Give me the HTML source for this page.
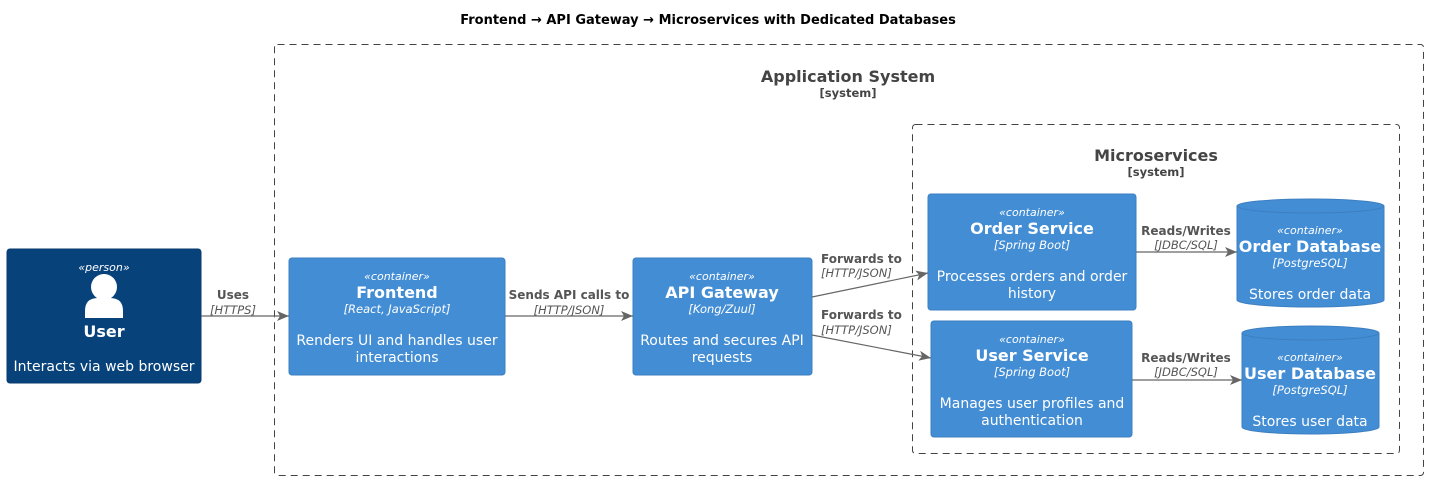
<!DOCTYPE html>
<html><head><meta charset="utf-8"><style>
html,body{margin:0;padding:0;background:#fff;}
svg{display:block;font-family:"DejaVu Sans","Liberation Sans",sans-serif;}
.st{font-size:11px;font-style:italic;fill:#fff;}
.nm{font-size:16px;font-weight:bold;fill:#fff;}
.tc{font-size:11.5px;font-style:italic;fill:#fff;}
.ds{font-size:14px;fill:#fff;}
.lb{font-size:12px;font-weight:bold;fill:#555;}
.lt{font-size:11.5px;font-style:italic;fill:#555;}
</style></head><body>
<svg width="1429" height="482" viewBox="0 0 1429 482">
<defs><marker id="a" markerWidth="12" markerHeight="10" refX="12" refY="5" orient="auto" markerUnits="userSpaceOnUse"><path d="M0,0 L12,5 L0,10 L3,5 z" fill="#666"/></marker></defs>
<text x="708" y="24" text-anchor="middle" font-size="13" font-weight="bold" fill="#000">Frontend → API Gateway → Microservices with Dedicated Databases</text>
<rect x="274.5" y="44.5" width="1149" height="431" rx="3" fill="none" stroke="#444" stroke-dasharray="7,5"/>
<text x="848" y="82" text-anchor="middle" font-size="16" font-weight="bold" fill="#444">Application System</text>
<text x="848" y="97" text-anchor="middle" font-size="11.5" font-weight="bold" fill="#444">[system]</text>
<rect x="912.5" y="124.5" width="487" height="329" rx="3" fill="none" stroke="#444" stroke-dasharray="7,5"/>
<text x="1156" y="161" text-anchor="middle" font-size="16" font-weight="bold" fill="#444">Microservices</text>
<text x="1156" y="176" text-anchor="middle" font-size="11.5" font-weight="bold" fill="#444">[system]</text>

<rect x="7" y="249" width="194" height="134" rx="3" fill="#08427B" stroke="#073B6F"/>
<text x="104" y="271" text-anchor="middle" class="st">«person»</text>
<circle cx="104" cy="287" r="13" fill="#fff"/>
<path d="M85,318 v-7 q0,-13 13,-13 h12 q13,0 13,13 v7 z" fill="#fff"/>
<text x="104" y="337" text-anchor="middle" class="nm">User</text>
<text x="104" y="371" text-anchor="middle" class="ds">Interacts via web browser</text>

<rect x="289" y="258" width="216" height="117" rx="3" fill="#438DD5" stroke="#3C7FC0"/>
<text x="397" y="280" text-anchor="middle" class="st">«container»</text>
<text x="397" y="298" text-anchor="middle" class="nm">Frontend</text>
<text x="397" y="313" text-anchor="middle" class="tc">[React, JavaScript]</text>
<text x="397" y="345" text-anchor="middle" class="ds">Renders UI and handles user</text>
<text x="397" y="362" text-anchor="middle" class="ds">interactions</text>

<rect x="633" y="258" width="179" height="117" rx="3" fill="#438DD5" stroke="#3C7FC0"/>
<text x="722" y="280" text-anchor="middle" class="st">«container»</text>
<text x="722" y="298" text-anchor="middle" class="nm">API Gateway</text>
<text x="722" y="313" text-anchor="middle" class="tc">[Kong/Zuul]</text>
<text x="722" y="345" text-anchor="middle" class="ds">Routes and secures API</text>
<text x="722" y="362" text-anchor="middle" class="ds">requests</text>

<rect x="928" y="194" width="208" height="116" rx="3" fill="#438DD5" stroke="#3C7FC0"/>
<text x="1032" y="216" text-anchor="middle" class="st">«container»</text>
<text x="1032" y="234" text-anchor="middle" class="nm">Order Service</text>
<text x="1032" y="249" text-anchor="middle" class="tc">[Spring Boot]</text>
<text x="1032" y="281" text-anchor="middle" class="ds">Processes orders and order</text>
<text x="1032" y="298" text-anchor="middle" class="ds">history</text>

<rect x="931" y="321" width="201" height="116" rx="3" fill="#438DD5" stroke="#3C7FC0"/>
<text x="1032" y="343" text-anchor="middle" class="st">«container»</text>
<text x="1032" y="361" text-anchor="middle" class="nm">User Service</text>
<text x="1032" y="376" text-anchor="middle" class="tc">[Spring Boot]</text>
<text x="1032" y="408" text-anchor="middle" class="ds">Manages user profiles and</text>
<text x="1032" y="425" text-anchor="middle" class="ds">authentication</text>

<path d="M1237,206 a73.5,7 0 0 1 147,0 v94 a73.5,7 0 0 1 -147,0 z" fill="#438DD5" stroke="#3C7FC0"/>
<path d="M1237,206 a73.5,7 0 0 0 147,0" fill="none" stroke="#3C7FC0"/>
<text x="1310" y="234" text-anchor="middle" class="st">«container»</text>
<text x="1310" y="252" text-anchor="middle" class="nm">Order Database</text>
<text x="1310" y="267" text-anchor="middle" class="tc">[PostgreSQL]</text>
<text x="1310" y="299" text-anchor="middle" class="ds">Stores order data</text>

<path d="M1242,333 a68.5,7 0 0 1 137,0 v94 a68.5,7 0 0 1 -137,0 z" fill="#438DD5" stroke="#3C7FC0"/>
<path d="M1242,333 a68.5,7 0 0 0 137,0" fill="none" stroke="#3C7FC0"/>
<text x="1310" y="361" text-anchor="middle" class="st">«container»</text>
<text x="1310" y="379" text-anchor="middle" class="nm">User Database</text>
<text x="1310" y="394" text-anchor="middle" class="tc">[PostgreSQL]</text>
<text x="1310" y="426" text-anchor="middle" class="ds">Stores user data</text>

<g stroke="#666" stroke-width="1.2" fill="none" marker-end="url(#a)">
<line x1="201" y1="316" x2="289" y2="316"/>
<line x1="505" y1="316" x2="633" y2="316"/>
<line x1="812" y1="297" x2="928" y2="273"/>
<line x1="812" y1="335" x2="931" y2="358"/>
<line x1="1136" y1="252" x2="1237" y2="252"/>
<line x1="1132" y1="380" x2="1242" y2="380"/>
</g>
<text x="233" y="299" text-anchor="middle" class="lb">Uses</text>
<text x="233" y="314" text-anchor="middle" class="lt">[HTTPS]</text>
<text x="569" y="299" text-anchor="middle" class="lb">Sends API calls to</text>
<text x="569" y="314" text-anchor="middle" class="lt">[HTTP/JSON]</text>
<text x="821" y="263" class="lb">Forwards to</text>
<text x="821" y="277" class="lt">[HTTP/JSON]</text>
<text x="821" y="319" class="lb">Forwards to</text>
<text x="821" y="334" class="lt">[HTTP/JSON]</text>
<text x="1186" y="235" text-anchor="middle" class="lb">Reads/Writes</text>
<text x="1186" y="249" text-anchor="middle" class="lt">[JDBC/SQL]</text>
<text x="1186" y="362" text-anchor="middle" class="lb">Reads/Writes</text>
<text x="1186" y="376" text-anchor="middle" class="lt">[JDBC/SQL]</text>
</svg>
</body></html>
